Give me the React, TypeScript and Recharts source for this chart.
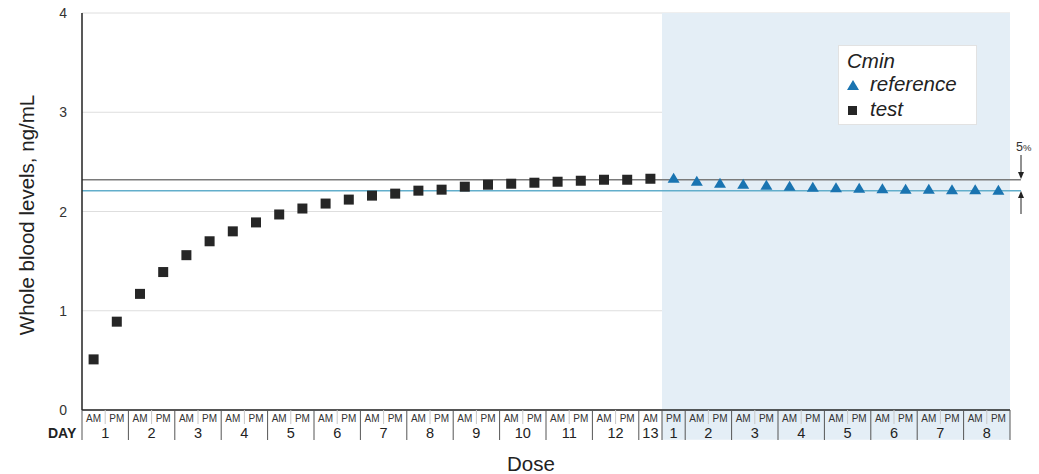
import React from 'react';
import {
  ScatterChart, Scatter, XAxis, YAxis, CartesianGrid, ReferenceLine, ReferenceArea,
} from 'recharts';

// Cmin values, one per dose slot
const TEST_VALUES = [
  0.51, 0.89, 1.17, 1.39, 1.56, 1.7, 1.8, 1.89, 1.97, 2.03, 2.08, 2.12, 2.16,
  2.18, 2.21, 2.22, 2.25, 2.27, 2.28, 2.29, 2.3, 2.31, 2.32, 2.32, 2.33,
];
const REFERENCE_VALUES = [
  2.33, 2.3, 2.28, 2.27, 2.26, 2.25, 2.24, 2.235, 2.23, 2.225, 2.22, 2.22, 2.215, 2.215, 2.21,
];

// dose slots along the x axis
const SLOT_LABELS = [
  ...Array(12).fill(['AM', 'PM']).flat(), 'AM',
  'PM', ...Array(7).fill(['AM', 'PM']).flat(),
];
const DAY_LABELS = ['1', '2', '3', '4', '5', '6', '7', '8', '9', '10', '11', '12', '13', '1', '2', '3', '4', '5', '6', '7', '8'];
const DAY_SLOTS = [2, 2, 2, 2, 2, 2, 2, 2, 2, 2, 2, 2, 1, 1, 2, 2, 2, 2, 2, 2, 2];

const Y_TICKS = [0, 1, 2, 3, 4];
const TEST_LEVEL = 2.32;
const REFERENCE_LEVEL = 2.21;

const FONT = '"Liberation Sans", Arial, sans-serif';

const testData = TEST_VALUES.map((v, i) => ({ x: i + 0.5, y: v }));
const refData = REFERENCE_VALUES.map((v, i) => ({ x: TEST_VALUES.length + i + 0.5, y: v }));
const totalSlots = SLOT_LABELS.length;

const dayBounds: number[] = [0];
const dayCenters: number[] = [];
DAY_SLOTS.forEach((n) => {
  const start = dayBounds[dayBounds.length - 1];
  dayCenters.push(start + n / 2);
  dayBounds.push(start + n);
});
const slotCenters = SLOT_LABELS.map((_, i) => i + 0.5);
const slotBounds = Array.from({ length: totalSlots + 1 }, (_, i) => i);
const X_TICKS = Array.from(new Set([...slotBounds, ...slotCenters, ...dayCenters])).sort((a, b) => a - b);

const XTick = (props: any) => {
  const { x, y, payload } = props;
  const v = payload.value;
  const items: React.ReactNode[] = [];
  if (Number.isInteger(v)) {
    const isDay = dayBounds.includes(v);
    items.push(
      <line key="l" x1={x} x2={x} y1={y} y2={isDay ? y + 30 : y + 14}
        stroke={isDay ? '#555' : '#c8c8c8'} strokeWidth={1} />
    );
  }
  const si = slotCenters.indexOf(v);
  if (si >= 0) {
    items.push(
      <text key="s" x={x} y={y + 12} textAnchor="middle" fontSize={10} fill="#333" fontFamily={FONT}>
        {SLOT_LABELS[si]}
      </text>
    );
  }
  const di = dayCenters.indexOf(v);
  if (di >= 0) {
    items.push(
      <text key="d" x={x} y={y + 28} textAnchor="middle" fontSize={14.5} fill="#222" fontFamily={FONT}>
        {DAY_LABELS[di]}
      </text>
    );
  }
  return <g>{items}</g>;
};

const YTick = (props: any) => (
  <text x={props.x} y={props.y} dy={5} textAnchor="end" fontSize={14} fill="#333" fontFamily={FONT}>
    {props.payload.value}
  </text>
);

const Square = (props: any) => (
  <rect x={props.cx - 5} y={props.cy - 5} width={10} height={10} fill="#262626" />
);
const Triangle = (props: any) => (
  <polygon points={`${props.cx},${props.cy - 6} ${props.cx - 6},${props.cy + 4} ${props.cx + 6},${props.cy + 4}`} fill="#1a74b1" />
);

export default function App() {
  return (
    <div style={{ position: 'absolute', left: 0, top: 0, width: 1039, height: 474, background: '#fff', fontFamily: FONT }}>
      <ScatterChart width={1039} height={474} margin={{ top: 13, right: 29, bottom: 30, left: 32 }}>
        <ReferenceArea x1={TEST_VALUES.length} x2={totalSlots} y1={-0.3} y2={4}
          fill="#e4eef6" fillOpacity={1} stroke="none" ifOverflow="visible" />
        <CartesianGrid vertical={false} stroke="#dedede" />
        <XAxis type="number" dataKey="x" domain={[0, totalSlots]} ticks={X_TICKS} interval={0}
          tick={<XTick />} tickLine={false} tickSize={0} tickMargin={0} height={34}
          axisLine={{ stroke: '#222', strokeWidth: 1.5 }} />
        <YAxis type="number" dataKey="y" domain={[0, 4]} ticks={Y_TICKS} width={50}
          tickLine={false} tickSize={0} tickMargin={15} axisLine={{ stroke: '#222', strokeWidth: 1.5 }}
          tick={<YTick />} />
        <ReferenceLine ifOverflow="visible" stroke="#7a7a7a" strokeWidth={1.5}
          segment={[{ x: 0, y: TEST_LEVEL }, { x: totalSlots + 0.47, y: TEST_LEVEL }]} />
        <ReferenceLine ifOverflow="visible" stroke="#62aecb" strokeWidth={1.5}
          segment={[{ x: 0, y: REFERENCE_LEVEL }, { x: totalSlots + 0.47, y: REFERENCE_LEVEL }]} />
        <Scatter name="test" data={testData} shape={<Square />} isAnimationActive={false} />
        <Scatter name="reference" data={refData} shape={<Triangle />} isAnimationActive={false} />
      </ScatterChart>

      <div style={{ position: 'absolute', left: 27, top: 215, transform: 'translate(-50%, -50%) rotate(-90deg)', fontSize: 20.5, color: '#222', whiteSpace: 'nowrap' }}>
        Whole blood levels, ng/mL
      </div>
      <div style={{ position: 'absolute', left: 531, top: 464, transform: 'translate(-50%, -50%)', fontSize: 20.5, color: '#222' }}>
        Dose
      </div>
      <div style={{ position: 'absolute', left: 48, top: 425, fontSize: 14, fontWeight: 'bold', color: '#222' }}>
        DAY
      </div>

      <div style={{ position: 'absolute', left: 838, top: 45, width: 139, height: 80, background: '#fff', border: '1px solid #e2e2e2', boxSizing: 'border-box', fontStyle: 'italic', fontSize: 20.5, color: '#222', lineHeight: 1 }}>
        <div style={{ position: 'absolute', left: 8, top: 5 }}>Cmin</div>
        <svg style={{ position: 'absolute', left: 8, top: 33 }} width={14} height={14}>
          <polygon points="6,1 0,11 12,11" fill="#1a74b1" />
        </svg>
        <div style={{ position: 'absolute', left: 31, top: 28 }}>reference</div>
        <svg style={{ position: 'absolute', left: 9, top: 60 }} width={12} height={12}>
          <rect x={0} y={0} width={9} height={9} fill="#262626" />
        </svg>
        <div style={{ position: 'absolute', left: 31, top: 53 }}>test</div>
      </div>

      <div style={{ position: 'absolute', left: 1016, top: 140, fontSize: 12.5, color: '#333' }}>
        5<span style={{ fontSize: 9.5 }}>%</span>
      </div>
      <svg style={{ position: 'absolute', left: 1012, top: 150 }} width={20} height={70}>
        <line x1={9} x2={9} y1={5} y2={24} stroke="#222" strokeWidth={1} />
        <polygon points="6,22 12,22 9,29" fill="#222" />
        <line x1={9} x2={9} y1={48} y2={64} stroke="#222" strokeWidth={1} />
        <polygon points="6,48 12,48 9,41" fill="#222" />
      </svg>
    </div>
  );
}
